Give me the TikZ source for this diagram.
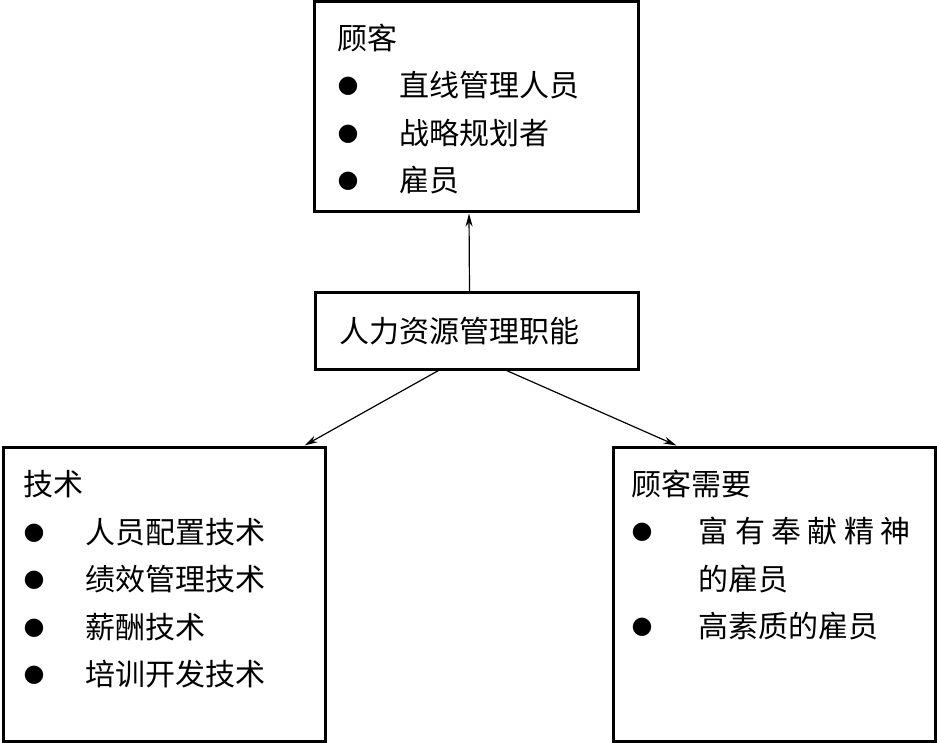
\documentclass[tikz,border=0pt]{standalone}
\usepackage{fontspec}
\newfontfamily\cjk{Noto Sans CJK SC}
\newfontfamily\symfont{DejaVu Sans}
\usetikzlibrary{arrows.meta,positioning}
\newcommand{\dotitem}[1][62pt]{\makebox[#1][l]{\raisebox{4pt}{\symfont\fontsize{24}{24}\selectfont ●}}}

\begin{document}
\begin{tikzpicture}[x=1pt,y=-1pt,
 box/.style={draw,line width=3pt,inner sep=0pt},
 list/.style={anchor=north west,align=left,inner sep=0pt,
 font=\cjk\fontsize{30}{47.5}\selectfont},
 arr/.style={->,line width=1.2pt},
 >={Stealth[length=13pt,width=7pt,inset=4pt]}]
\useasboundingbox (0,0) rectangle (937,743);
\node[box,minimum width=324,minimum height=210] (cust) at (476,107) {};
\node[box,minimum width=323,minimum height=76,font=\cjk\fontsize{30}{36}\selectfont,
 text width=275,align=left] (hrm) at (476.5,331) {人力资源管理职能};
\node[box,minimum width=322,minimum height=294] (tech) at (164,594) {};
\node[box,minimum width=322,minimum height=294] (need) at (774,594) {};
\node[list] (custtxt) at ([shift={(25,23)}]cust.north west)
 {顾客\\\dotitem 直线管理人员\\\dotitem 战略规划者\\\dotitem 雇员};
\node[list] (techtxt) at ([shift={(22,25)}]tech.north west)
 {技术\\\dotitem 人员配置技术\\\dotitem 绩效管理技术\\\dotitem 薪酬技术\\\dotitem 培训开发技术};
\node[list] (needtxt) at ([shift={(20,24)}]need.north west)
 {顾客需要\\\dotitem[67pt]\makebox[212pt][s]{富\hfil 有\hfil 奉\hfil 献\hfil 精\hfil 神}\\
 \hspace*{67pt}的雇员\\\dotitem[67pt]高素质的雇员};
\draw[arr] ([xshift=-7pt]hrm.north) -- ([xshift=-7pt]cust.south);
\draw[arr] ([xshift=-38pt]hrm.south) -- ([xshift=-22pt]tech.north east);
\draw[arr] ([xshift=30pt]hrm.south) -- ([xshift=65pt]need.north west);
\end{tikzpicture}
\end{document}
